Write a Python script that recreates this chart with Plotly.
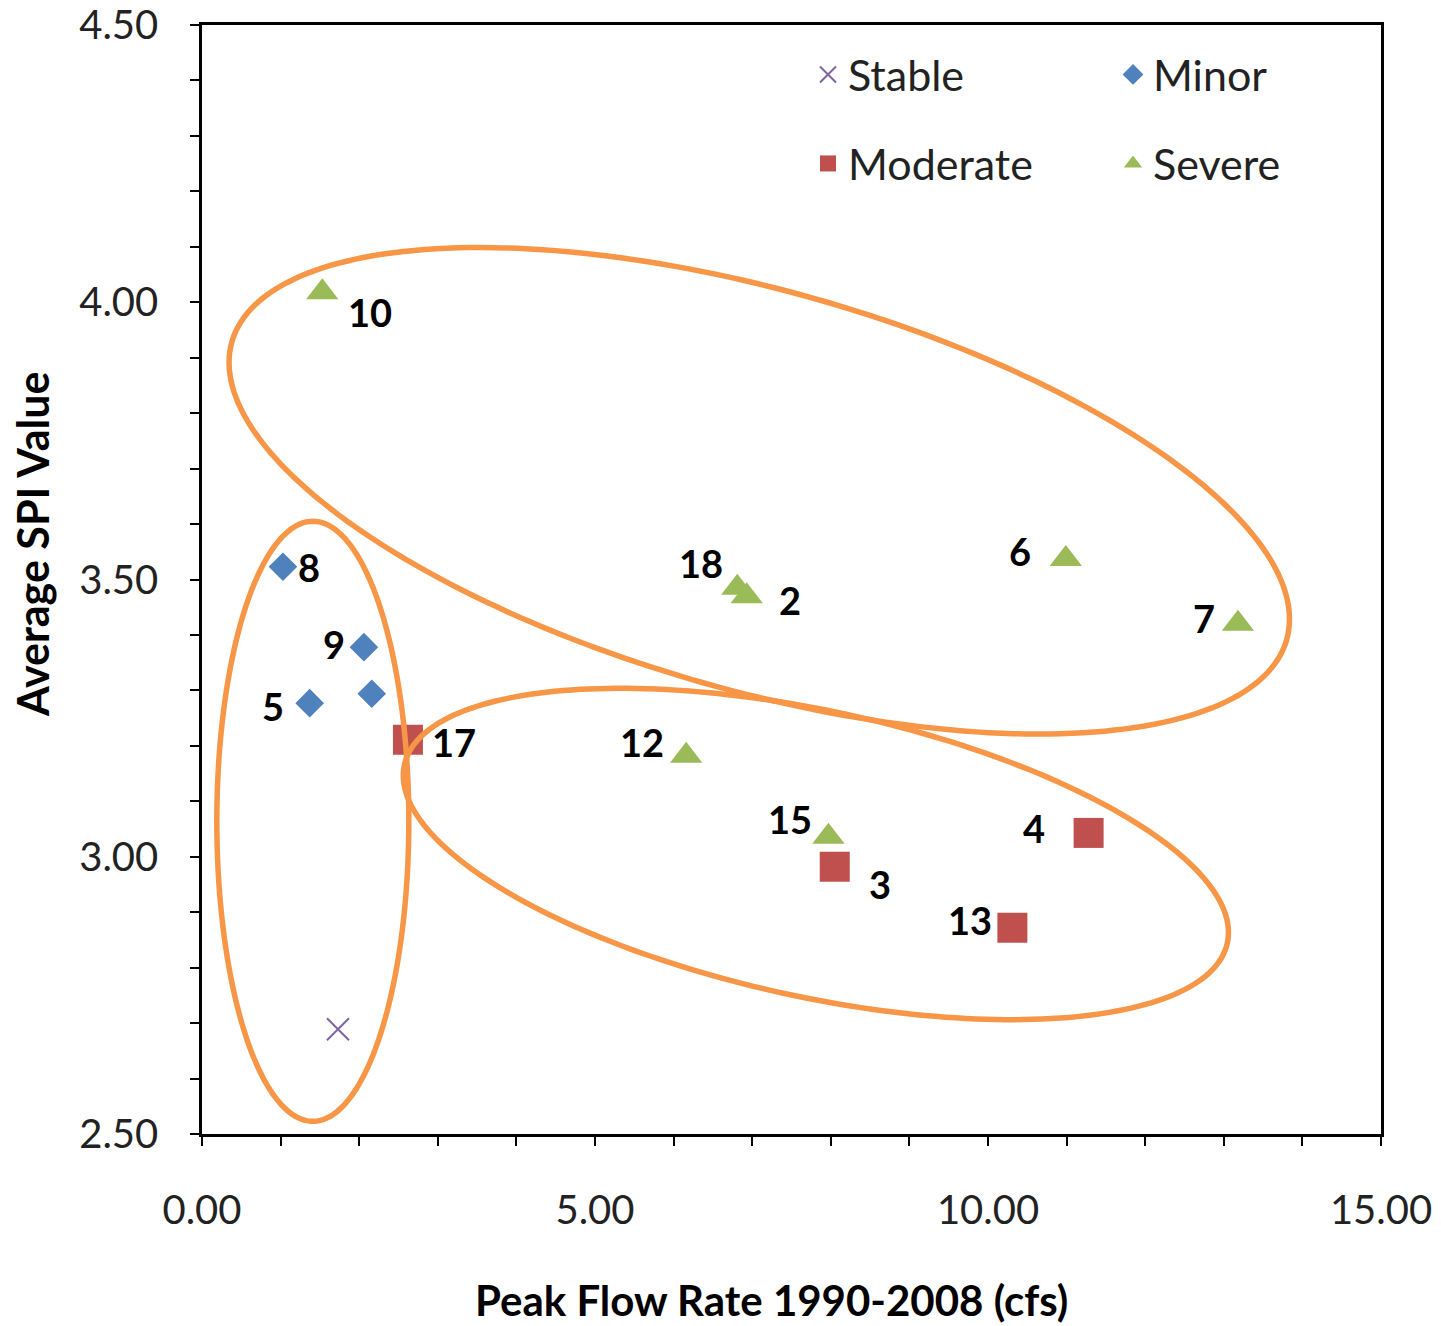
import numpy as np
import plotly.graph_objects as go

# ---------------- data ----------------
stable_x = [1.73]
stable_y = [2.689]
stable_lbl = [""]

minor_x = [1.03, 2.06, 2.16, 1.37]
minor_y = [3.523, 3.378, 3.294, 3.277]
minor_lbl = ["8", "9", "", "5"]

moderate_x = [2.62, 8.05, 11.28, 10.31]
moderate_y = [3.211, 2.982, 3.043, 2.872]
moderate_lbl = ["17", "3", "4", "13"]

severe_x = [1.53, 6.81, 6.93, 10.99, 13.18, 6.16, 7.97]
severe_y = [4.018, 3.485, 3.470, 3.537, 3.420, 3.182, 3.036]
severe_lbl = ["10", "18", "2", "6", "7", "12", "15"]

x_ticks = [0, 5, 10, 15]
x_ticklabels = ["0.00", "5.00", "10.00", "15.00"]
y_ticks = [2.5, 3.0, 3.5, 4.0, 4.5]
y_ticklabels = ["2.50", "3.00", "3.50", "4.00", "4.50"]

# cluster ellipses: centre (data), semi-axes (px), rotation (deg, screen)
ell_cx = [7.09, 1.41, 7.81]
ell_cy = [3.660, 3.064, 3.005]
ell_a = [548, 96, 421]
ell_b = [200, 300, 143]
ell_rot = [15.75, 0.0, 12.2]

# ---------------- style ----------------
W, H = 1441, 1326
ML, MR, MT, MB = 202, 60, 25, 192
XR = (0, 15)
YR = (2.5, 4.5)
FONT = "Lato"
C_STABLE = "#8064A2"
C_MINOR = "#4F81BD"
C_MOD = "#C0504D"
C_SEV = "#9BBB59"
C_ELL = "#F79646"

pw = W - ML - MR
ph = H - MT - MB
xs = pw / (XR[1] - XR[0])
ys = ph / (YR[1] - YR[0])

# label offsets (px, right / down) relative to marker
stable_off = [(0, 0)]
minor_off = [(26, 0), (-30, -3), (0, 0), (-37, 3)]
moderate_off = [(46, 2), (45, 17), (-55, -5), (-42, -8)]
severe_off = [(48, 20), (-36, -25), (43, 4), (-46, -8), (-34, -6), (-44, -14), (-38, -18)]

fig = go.Figure()

series = [
    ("Stable", stable_x, stable_y, stable_lbl, stable_off,
     dict(symbol="x-thin-open", size=22, color=C_STABLE, line=dict(color=C_STABLE, width=2)), "legend"),
    ("Minor", minor_x, minor_y, minor_lbl, minor_off,
     dict(symbol="diamond", size=22, color=C_MINOR), "legend"),
    ("Moderate", moderate_x, moderate_y, moderate_lbl, moderate_off,
     dict(symbol="square", size=30, color=C_MOD), "legend2"),
    ("Severe", severe_x, severe_y, severe_lbl, severe_off,
     dict(symbol="triangle-up", size=28, color=C_SEV), "legend2"),
]

annotations = []
for name, xv, yv, lbl, off, mk, lg in series:
    fig.add_trace(go.Scatter(x=xv, y=yv, mode="markers", name=name, marker=mk,
                             legend=lg, cliponaxis=False))
    for xi, yi, t, (dx, dy) in zip(xv, yv, lbl, off):
        if t:
            annotations.append(dict(x=xi, y=yi, xref="x", yref="y", text=t, showarrow=False,
                                    xshift=dx, yshift=-dy, xanchor="center", yanchor="middle",
                                    font=dict(family=FONT, size=38, color="black", weight="bold")))

# ellipses as shape paths
shapes = []
t = np.linspace(0, 2 * np.pi, 241)
for cx, cy, a, b, r in zip(ell_cx, ell_cy, ell_a, ell_b, ell_rot):
    th = np.deg2rad(r)
    dx = a * np.cos(t) * np.cos(th) - b * np.sin(t) * np.sin(th)
    dy = a * np.cos(t) * np.sin(th) + b * np.sin(t) * np.cos(th)
    px = cx + dx / xs
    py = cy - dy / ys
    path = "M " + " L ".join(f"{u:.4f},{v:.4f}" for u, v in zip(px, py)) + " Z"
    shapes.append(dict(type="path", path=path, xref="x", yref="y",
                       line=dict(color=C_ELL, width=5.5), fillcolor="rgba(0,0,0,0)", layer="above"))

annotations.append(dict(text="Peak Flow Rate 1990-2008 (cfs)", xref="paper", yref="paper",
                        x=(771 - ML) / pw, y=(MT + ph - 1300) / ph, showarrow=False,
                        xanchor="center", yanchor="middle",
                        font=dict(family=FONT, size=42, color="black", weight="bold")))
annotations.append(dict(text="Average SPI Value", xref="paper", yref="paper",
                        x=(32 - ML) / pw, y=(MT + ph - 545) / ph, showarrow=False, textangle=-90,
                        xanchor="center", yanchor="middle",
                        font=dict(family=FONT, size=43, color="black", weight="bold")))

axis_common = dict(showgrid=False, zeroline=False, showline=True, linecolor="black", linewidth=2.5,
                   mirror=True, ticks="outside", ticklen=9, tickwidth=2, tickcolor="black",
                   automargin=False,
                   tickfont=dict(family=FONT, size=40, color="#222"))

fig.update_layout(
    width=W, height=H, margin=dict(l=ML, r=MR, t=MT, b=MB, autoexpand=False),
    plot_bgcolor="white", paper_bgcolor="white",
    font=dict(family=FONT, color="black"),
    xaxis=dict(range=list(XR), tickvals=x_ticks, ticktext=x_ticklabels,
               minor=dict(dtick=1, ticks="outside", ticklen=9, tickwidth=2, tickcolor="black"),
               ticklabelstandoff=30, **axis_common),
    yaxis=dict(range=list(YR), tickvals=y_ticks, ticktext=y_ticklabels,
               minor=dict(dtick=0.1, ticks="outside", ticklen=9, tickwidth=2, tickcolor="black"),
               ticklabelstandoff=24, **axis_common),
    xaxis2=dict(range=list(XR), overlaying="x", anchor="y", side="bottom", tickvals=x_ticks,
                ticks="inside", ticklen=8, tickwidth=2, tickcolor="black", showticklabels=False,
                showgrid=False, zeroline=False, showline=False, automargin=False),
    yaxis2=dict(range=list(YR), overlaying="y", anchor="x", side="left", tickvals=y_ticks,
                ticks="inside", ticklen=8, tickwidth=2, tickcolor="black", showticklabels=False,
                showgrid=False, zeroline=False, showline=False, automargin=False),
    legend=dict(orientation="h", x=(808 - ML) / pw, y=(MT + ph - 40) / ph, xanchor="left", yanchor="top",
                entrywidth=260, entrywidthmode="pixels", bgcolor="rgba(0,0,0,0)",
                font=dict(family=FONT, size=43, color="#222")),
    legend2=dict(orientation="h", x=(808 - ML) / pw, y=(MT + ph - 129) / ph, xanchor="left", yanchor="top",
                 entrywidth=260, entrywidthmode="pixels", bgcolor="rgba(0,0,0,0)",
                 font=dict(family=FONT, size=43, color="#222")),
    shapes=shapes,
    annotations=annotations,
)

fig.write_html("out.html", config={"displayModeBar": False},
               post_script="document.body.style.margin='0';document.body.style.padding='0';")
